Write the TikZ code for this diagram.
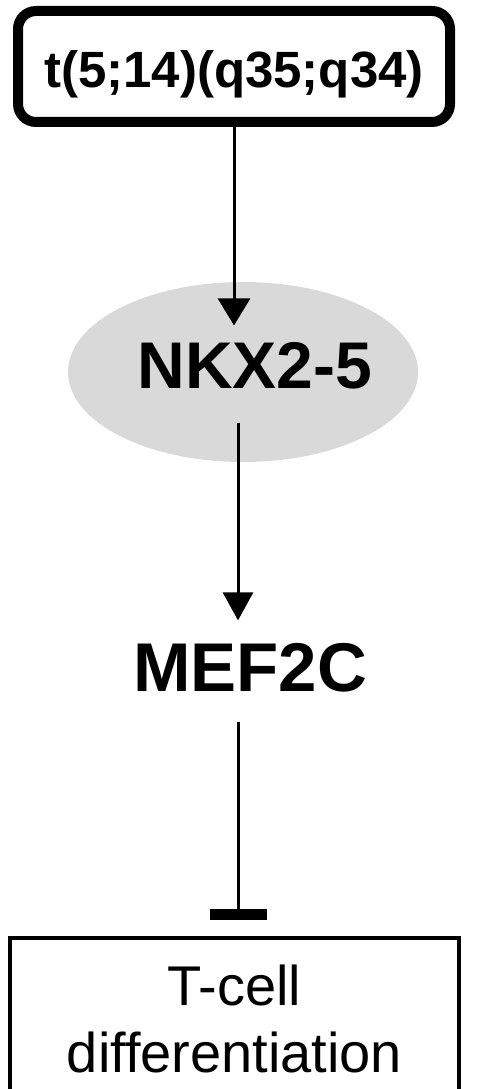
\documentclass[tikz,border=0pt]{standalone}
\usepackage{fontspec}
\setmainfont{Liberation Sans}
\usetikzlibrary{arrows.meta,shapes.geometric}
\begin{document}
\begin{tikzpicture}[x=1pt,y=-1pt,
  topbox/.style={draw, line width=10pt, rounded corners=18pt, minimum width=432pt, minimum height=111pt, inner sep=0pt,
    font=\fontsize{51}{58}\selectfont\bfseries, text height=42pt, text depth=0pt},
  ell/.style={ellipse, fill=gray!30, minimum width=350pt, minimum height=180pt, inner sep=0pt},
  gene/.style={inner sep=0pt, font=\bfseries},
  outbox/.style={draw, line width=4pt, minimum width=449pt, minimum height=162pt, inner sep=0pt, align=center,
    font=\fontsize{56}{67}\selectfont},
  conn/.style={line width=3pt}
]
\useasboundingbox (0,0) rectangle (480,1089);
\clip (0,0) rectangle (480,1089);
\node[topbox] (top) at (234,66.5) {t(5;14)(q35;q34)};
\node[ell] (ell) at (243,372) {};
\node[gene, font=\fontsize{66}{70}\selectfont\bfseries] (nkx) at (255,366) {NKX2-5};
\node[gene, font=\fontsize{69}{72}\selectfont\bfseries] (mef) at (250,668) {MEF2C};
\node[outbox] (tcell) at (234.5,1019) {T-cell\\differentiation};
\draw[conn, -{Triangle[length=27pt,width=32pt]}, shorten >=17pt] (top.south) -- ([xshift=-21pt]nkx.north);
\draw[conn, -{Triangle[length=28pt,width=30pt]}, shorten <=33pt, shorten >=23pt] ([xshift=-17pt]nkx.south) -- ([xshift=-12pt]mef.north);
\draw[conn, -{Bar[width=57pt,line width=11pt]}, shorten <=29pt, shorten >=16pt] ([xshift=-12pt]mef.south) -- ([xshift=-12pt]mef.south |- tcell.north);
\end{tikzpicture}
\end{document}
